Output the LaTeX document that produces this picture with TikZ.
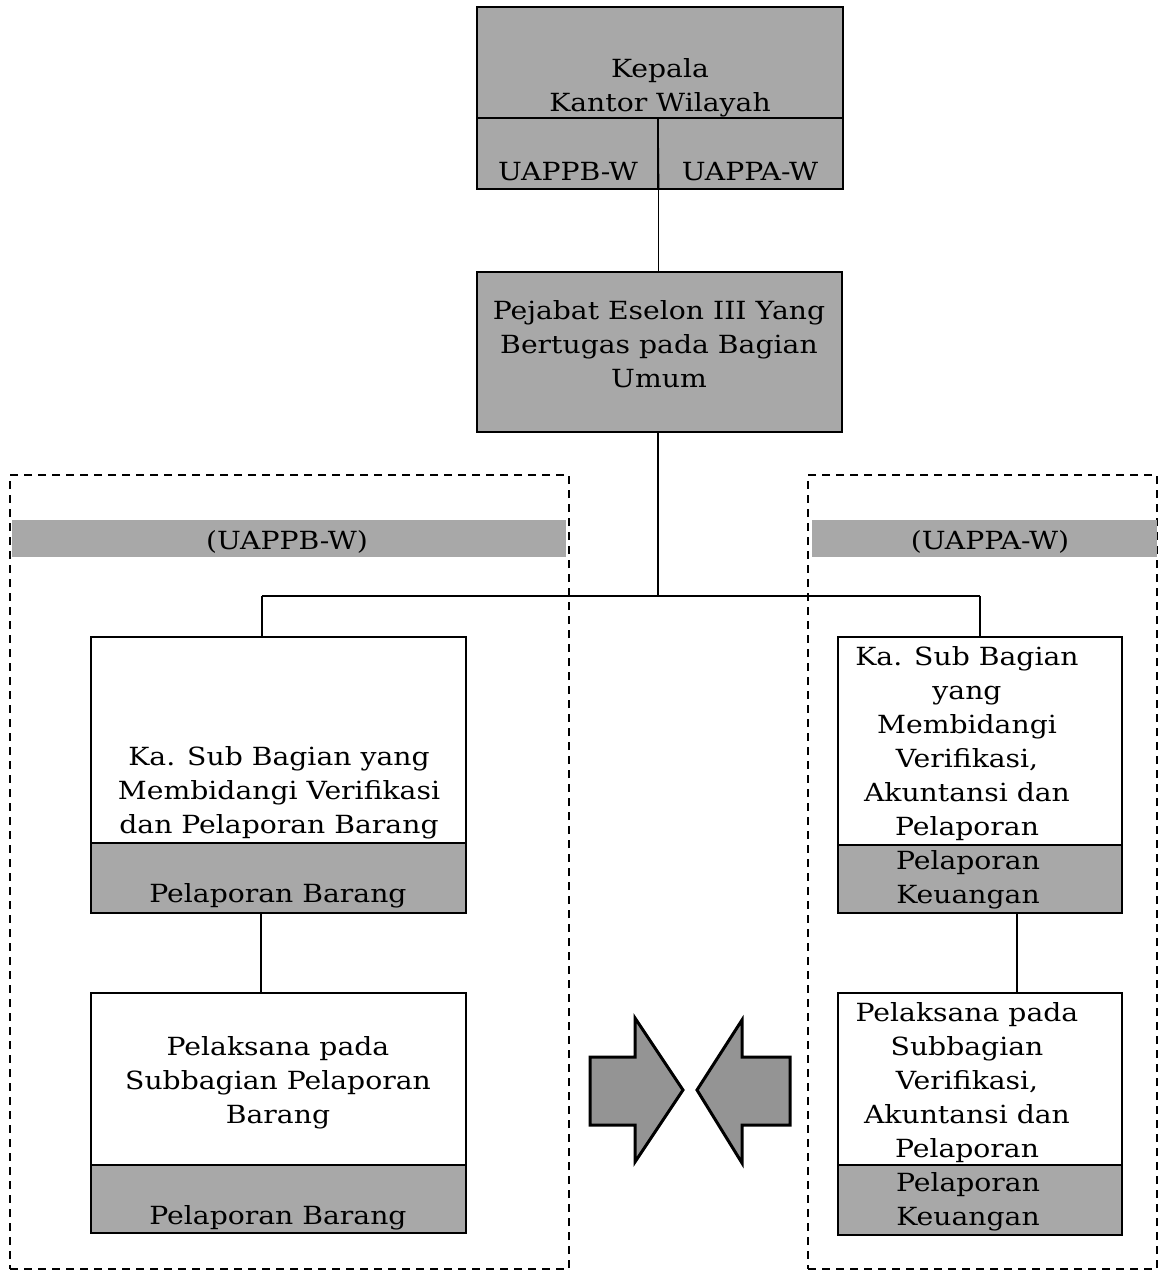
\documentclass[tikz,border=0pt]{standalone}
\usepackage{fontspec}
\setmainfont{DejaVu Serif}[FakeStretch=1.13]
\definecolor{cellgray}{gray}{0.66}
\definecolor{arrowgray}{gray}{0.58}
\begin{document}
\begin{tikzpicture}[x=0.5pt,y=-0.5pt,
  cell/.style={draw, line width=0.7pt, inner sep=0pt, fill=white},
  graycell/.style={cell, fill=cellgray},
  band/.style={inner sep=0pt, fill=cellgray},
  frame/.style={draw, line width=1pt, dash pattern=on 4pt off 3pt, inner sep=0pt},
  txt/.style={align=center, inner sep=0pt, font=\fontsize{12.5}{17}\selectfont},
  conn/.style={line width=0.7pt},
  bigarrow/.style={draw, line width=1.5pt, fill=arrowgray, line join=miter}]
\useasboundingbox (0,0) rectangle (1159,1276);

% dashed frames and bands
\node[frame, minimum width=279.5pt, minimum height=397pt] (frameL) at (289.5,872) {};
\node[frame, minimum width=174.5pt, minimum height=397pt] (frameR) at (982.5,872) {};
\node[band, minimum width=277pt, minimum height=18.5pt] (bandL) at (289,538.5) {};
\node[band, minimum width=172.5pt, minimum height=18.5pt] (bandR) at (984.5,538.5) {};
\node[txt] (bandLt) at (287,542) {(UAPPB-W)};
\node[txt] (bandRt) at (990,542) {(UAPPA-W)};

% top box
\node[graycell, minimum width=183pt, minimum height=55.5pt] (kepala) at (660,62.5) {};
\node[graycell, minimum width=90.5pt, minimum height=35.5pt] (uappb) at (567.5,153.5) {};
\node[graycell, minimum width=92.5pt, minimum height=35.5pt] (uappa) at (750.5,153.5) {};
\node[txt] (kepalat) at (660,88) {Kepala\\Kantor Wilayah};
\node[txt] (uappbt) at (568,172) {UAPPB-W};
\node[txt] (uappat) at (750,172) {UAPPA-W};

% second box
\node[graycell, minimum width=182.5pt, minimum height=80pt] (pejabat) at (659.5,352) {};
\node[txt] (pejabatt) at (659,344) {Pejabat Eselon III Yang\\Bertugas pada Bagian\\Umum};

% left column
\node[cell, minimum width=187.5pt, minimum height=103pt] (kasubL) at (278.5,740) {};
\node[graycell, minimum width=187.5pt, minimum height=35pt] (kasubLg) at (278.5,878) {};
\node[txt] (kasubLt) at (279,793) {Ka. Sub Bagian yang\\Membidangi Verifikasi\\dan Pelaporan Barang};
\node[txt] (kasubLgt) at (278,896) {Pelaporan Barang};

\node[cell, minimum width=187.5pt, minimum height=86pt] (pelL) at (278.5,1079) {};
\node[graycell, minimum width=187.5pt, minimum height=34pt] (pelLg) at (278.5,1199) {};
\node[txt] (pelLt) at (278,1083) {Pelaksana pada\\Subbagian Pelaporan\\Barang};
\node[txt] (pelLgt) at (278,1218) {Pelaporan Barang};

% right column
\node[cell, minimum width=142pt, minimum height=104pt] (kasubR) at (980,741) {};
\node[graycell, minimum width=142pt, minimum height=34pt] (kasubRg) at (980,879) {};
\node[txt] (kasubRt) at (967,744) {Ka. Sub Bagian\\yang\\Membidangi\\Verifikasi,\\Akuntansi dan\\Pelaporan};
\node[txt] (kasubRgt) at (968,880) {Pelaporan\\Keuangan};

\node[cell, minimum width=142pt, minimum height=86pt] (pelR) at (980,1079) {};
\node[graycell, minimum width=142pt, minimum height=35pt] (pelRg) at (980,1200) {};
\node[txt] (pelRt) at (967,1083) {Pelaksana pada\\Subbagian\\Verifikasi,\\Akuntansi dan\\Pelaporan};
\node[txt] (pelRgt) at (968,1202) {Pelaporan\\Keuangan};

% connectors
\coordinate (split) at (658,118);
\coordinate (hM) at (658,596);
\coordinate (hL) at (262,596);
\coordinate (hR) at (980,596);
\draw[conn] (split) -- (uappb.south east);
\draw[conn] (uappb.south east) -- (pejabat.north -| uappb.south east);
\draw[conn] (pejabat.south -| hM) -- (hM);
\draw[conn] (hL) -- (hR);
\draw[conn] (hL) -- (hL |- kasubL.north);
\draw[conn] (hR) -- (kasubR.north);
\coordinate (abx) at (261,0);
\draw[conn] (kasubLg.south -| abx) -- (pelL.north -| abx);
\coordinate (cdx) at (1017,0);
\draw[conn] (kasubRg.south -| cdx) -- (pelR.north -| cdx);

% big arrows
\draw[bigarrow] (590,1057) -- (635,1057) -- (635,1018) -- (683,1090) -- (635,1162) -- (635,1125) -- (590,1125) -- cycle;
\draw[bigarrow] (790,1057) -- (742,1057) -- (742,1020) -- (697,1090) -- (742,1163) -- (742,1125) -- (790,1125) -- cycle;
\end{tikzpicture}
\end{document}
